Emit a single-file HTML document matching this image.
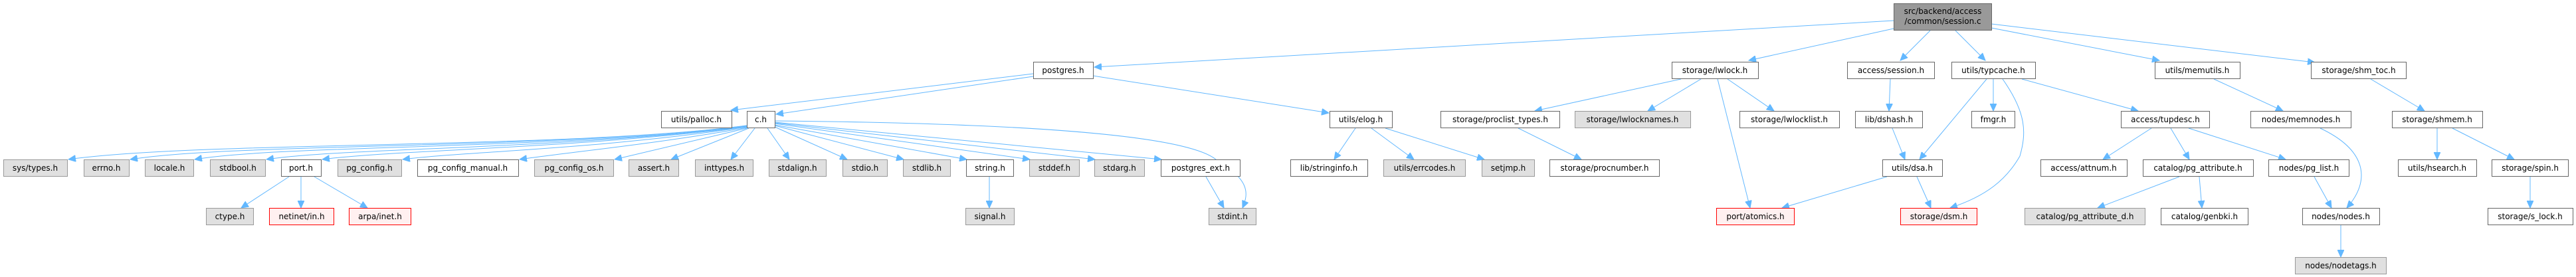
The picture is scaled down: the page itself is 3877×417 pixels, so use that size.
<!DOCTYPE html>
<html><head><meta charset="utf-8"><style>
html,body{margin:0;padding:0;background:#fff;}
svg{display:block;}
text{font-family:"DejaVu Sans","Liberation Sans",sans-serif;font-size:12px;fill:#000;text-anchor:middle;}
.w{fill:#fff;stroke:#666;stroke-width:1;}
.g{fill:#e0e0e0;stroke:#999;stroke-width:1;}
.r{fill:#fff0f0;stroke:#f00;stroke-width:1;}
.root{fill:#999;stroke:#666;stroke-width:1;}
path{fill:none;stroke:#63b8ff;stroke-width:1;marker-end:url(#a);}
</style></head><body>
<svg width="3877" height="417" viewBox="0 0 3877 417" xmlns="http://www.w3.org/2000/svg">
<defs><marker id="a" markerUnits="userSpaceOnUse" markerWidth="12" markerHeight="10" refX="11" refY="5" orient="auto"><path d="M0,0 L11,5 L0,10 Z" style="fill:#63b8ff;stroke:#63b8ff;marker-end:none"/></marker></defs>

<!-- edges -->
<path d="M2850,31 L1647,101"/>
<path d="M2850,43 L2632,91"/>
<path d="M2905,46 L2860,91"/>
<path d="M2943,46 L2988,91"/>
<path d="M2997,42 L3250,91"/>
<path d="M2997,36 L3484,94"/>

<path d="M1555,111 L1100,166"/>
<path d="M1555,115 L1168,172"/>
<path d="M1645,114 L2000,170"/>

<path d="M1124,189 C850,225 300,212 103,240"/>
<path d="M1124,189 C850,225 350,215 196,240"/>
<path d="M1124,190 C850,225 420,218 293,240"/>
<path d="M1124,190 C850,225 520,222 401,240"/>
<path d="M1124,191 C850,225 600,225 485,240"/>
<path d="M1124,191 C900,225 700,228 606,240"/>
<path d="M1124,192 C1000,215 850,230 782,240"/>
<path d="M1124,193 L925,240"/>
<path d="M1127,193 L1010,240"/>
<path d="M1136,193 L1100,240"/>
<path d="M1155,193 L1188,240"/>
<path d="M1166,191 L1275,240"/>
<path d="M1166,189 L1360,240"/>
<path d="M1166,188 L1455,240"/>
<path d="M1166,186 L1550,240"/>
<path d="M1166,185 L1648,240"/>
<path d="M1166,184 L1748,240"/>
<path d="M1166,182 C1500,185 1780,200 1830,240 C1880,270 1880,290 1870,313"/>

<path d="M435,266 L363,313"/>
<path d="M453,266 L453,313"/>
<path d="M473,266 L553,313"/>
<path d="M1489,266 L1489,313"/>
<path d="M1815,266 L1842,313"/>

<path d="M2040,193 L2008,240"/>
<path d="M2064,193 L2128,240"/>
<path d="M2085,193 L2234,240"/>
<path d="M2530,119 L2310,167"/>
<path d="M2560,119 L2480,167"/>
<path d="M2600,119 L2670,167"/>
<path d="M2585,119 L2634,313"/>
<path d="M2285,193 L2380,240"/>

<path d="M2845,119 L2843,167"/>
<path d="M2848,193 L2867,240"/>
<path d="M2990,119 L2889,240"/>
<path d="M3000,119 L3000,167"/>
<path d="M3014,119 C3050,170 3050,200 3040,235 C3020,270 2990,295 2935,313"/>
<path d="M3043,119 L3218,167"/>
<path d="M2840,266 L2682,313"/>
<path d="M2885,266 L2906,313"/>

<path d="M3238,193 L3165,240"/>
<path d="M3267,193 L3295,240"/>
<path d="M3294,193 L3440,240"/>
<path d="M3280,266 L3157,313"/>
<path d="M3310,266 L3314,313"/>
<path d="M3483,266 L3509,313"/>
<path d="M3332,119 L3436,167"/>
<path d="M3492,193 C3560,225 3570,270 3532,313"/>
<path d="M3523,339 L3523,387"/>
<path d="M3568,119 L3649,167"/>
<path d="M3668,193 L3668,240"/>
<path d="M3691,193 L3784,240"/>
<path d="M3808,266 L3808,313"/>

<!-- nodes -->
<rect class="root" x="2850.5" y="5.5" width="147" height="40"/>
<text x="2924" y="21">src/backend/access</text>
<text x="2924" y="36">/common/session.c</text>

<rect class="w" x="1555.5" y="93.5" width="90" height="25"/><text x="1600" y="110">postgres.h</text>
<rect class="w" x="2516.5" y="93.5" width="130" height="25"/><text x="2581" y="110">storage/lwlock.h</text>
<rect class="w" x="2780.5" y="93.5" width="131" height="25"/><text x="2846" y="110">access/session.h</text>
<rect class="w" x="2937.5" y="93.5" width="126" height="25"/><text x="3000" y="110">utils/typcache.h</text>
<rect class="w" x="3243.5" y="93.5" width="128" height="25"/><text x="3307" y="110">utils/memutils.h</text>
<rect class="w" x="3478.5" y="93.5" width="143" height="25"/><text x="3550" y="110">storage/shm_toc.h</text>

<rect class="w" x="995.5" y="167.5" width="106" height="25"/><text x="1048" y="184">utils/palloc.h</text>
<rect class="w" x="1124.5" y="167.5" width="42" height="25"/><text x="1145" y="184">c.h</text>
<rect class="w" x="2001.5" y="167.5" width="94" height="25"/><text x="2048" y="184">utils/elog.h</text>
<rect class="w" x="2168.5" y="167.5" width="179" height="25"/><text x="2258" y="184">storage/proclist_types.h</text>
<rect class="g" x="2370.5" y="167.5" width="174" height="25"/><text x="2457" y="184">storage/lwlocknames.h</text>
<rect class="w" x="2618.5" y="167.5" width="150" height="25"/><text x="2693" y="184">storage/lwlocklist.h</text>
<rect class="w" x="2792.5" y="167.5" width="101" height="25"/><text x="2843" y="184">lib/dshash.h</text>
<rect class="w" x="2967.5" y="167.5" width="65" height="25"/><text x="3000" y="184">fmgr.h</text>
<rect class="w" x="3192.5" y="167.5" width="133" height="25"/><text x="3259" y="184">access/tupdesc.h</text>
<rect class="w" x="3387.5" y="167.5" width="151" height="25"/><text x="3463" y="184">nodes/memnodes.h</text>
<rect class="w" x="3600.5" y="167.5" width="136" height="25"/><text x="3668" y="184">storage/shmem.h</text>

<rect class="g" x="5.5" y="240.5" width="96" height="25"/><text x="53" y="257">sys/types.h</text>
<rect class="g" x="126.5" y="240.5" width="68" height="25"/><text x="160" y="257">errno.h</text>
<rect class="g" x="218.5" y="240.5" width="73" height="25"/><text x="255" y="257">locale.h</text>
<rect class="g" x="316.5" y="240.5" width="83" height="25"/><text x="358" y="257">stdbool.h</text>
<rect class="w" x="423.5" y="240.5" width="60" height="25"/><text x="453" y="257">port.h</text>
<rect class="g" x="508.5" y="240.5" width="96" height="25"/><text x="556" y="257">pg_config.h</text>
<rect class="w" x="628.5" y="240.5" width="152" height="25"/><text x="704" y="257">pg_config_manual.h</text>
<rect class="g" x="804.5" y="240.5" width="119" height="25"/><text x="864" y="257">pg_config_os.h</text>
<rect class="g" x="946.5" y="240.5" width="75" height="25"/><text x="984" y="257">assert.h</text>
<rect class="g" x="1046.5" y="240.5" width="87" height="25"/><text x="1090" y="257">inttypes.h</text>
<rect class="g" x="1157.5" y="240.5" width="86" height="25"/><text x="1200" y="257">stdalign.h</text>
<rect class="g" x="1268.5" y="240.5" width="67" height="25"/><text x="1302" y="257">stdio.h</text>
<rect class="g" x="1359.5" y="240.5" width="71" height="25"/><text x="1395" y="257">stdlib.h</text>
<rect class="w" x="1454.5" y="240.5" width="71" height="25"/><text x="1490" y="257">string.h</text>
<rect class="g" x="1549.5" y="240.5" width="75" height="25"/><text x="1587" y="257">stddef.h</text>
<rect class="g" x="1647.5" y="240.5" width="75" height="25"/><text x="1685" y="257">stdarg.h</text>
<rect class="w" x="1747.5" y="240.5" width="119" height="25"/><text x="1807" y="257">postgres_ext.h</text>
<rect class="w" x="1942.5" y="240.5" width="116" height="25"/><text x="2000" y="257">lib/stringinfo.h</text>
<rect class="g" x="2082.5" y="240.5" width="123" height="25"/><text x="2144" y="257">utils/errcodes.h</text>
<rect class="g" x="2230.5" y="240.5" width="79" height="25"/><text x="2270" y="257">setjmp.h</text>
<rect class="w" x="2332.5" y="240.5" width="165" height="25"/><text x="2415" y="257">storage/procnumber.h</text>
<rect class="w" x="2833.5" y="240.5" width="90" height="25"/><text x="2878" y="257">utils/dsa.h</text>
<rect class="w" x="3071.5" y="240.5" width="130" height="25"/><text x="3136" y="257">access/attnum.h</text>
<rect class="w" x="3225.5" y="240.5" width="166" height="25"/><text x="3308" y="257">catalog/pg_attribute.h</text>
<rect class="w" x="3414.5" y="240.5" width="121" height="25"/><text x="3475" y="257">nodes/pg_list.h</text>
<rect class="w" x="3609.5" y="240.5" width="118" height="25"/><text x="3668" y="257">utils/hsearch.h</text>
<rect class="w" x="3750.5" y="240.5" width="115" height="25"/><text x="3808" y="257">storage/spin.h</text>

<rect class="g" x="310.5" y="313.5" width="71" height="25"/><text x="346" y="330">ctype.h</text>
<rect class="r" x="405.5" y="313.5" width="97" height="25"/><text x="454" y="330">netinet/in.h</text>
<rect class="r" x="525.5" y="313.5" width="93" height="25"/><text x="572" y="330">arpa/inet.h</text>
<rect class="g" x="1453.5" y="313.5" width="73" height="25"/><text x="1490" y="330">signal.h</text>
<rect class="g" x="1819.5" y="313.5" width="71" height="25"/><text x="1855" y="330">stdint.h</text>
<rect class="r" x="2583.5" y="313.5" width="117" height="25"/><text x="2642" y="330">port/atomics.h</text>
<rect class="r" x="2860.5" y="313.5" width="115" height="25"/><text x="2918" y="330">storage/dsm.h</text>
<rect class="g" x="3047.5" y="313.5" width="181" height="25"/><text x="3138" y="330">catalog/pg_attribute_d.h</text>
<rect class="w" x="3252.5" y="313.5" width="131" height="25"/><text x="3318" y="330">catalog/genbki.h</text>
<rect class="w" x="3465.5" y="313.5" width="116" height="25"/><text x="3523" y="330">nodes/nodes.h</text>
<rect class="w" x="3744.5" y="313.5" width="128" height="25"/><text x="3808" y="330">storage/s_lock.h</text>

<rect class="g" x="3454.5" y="387.5" width="137" height="25"/><text x="3523" y="404">nodes/nodetags.h</text>
</svg>
</body></html>
